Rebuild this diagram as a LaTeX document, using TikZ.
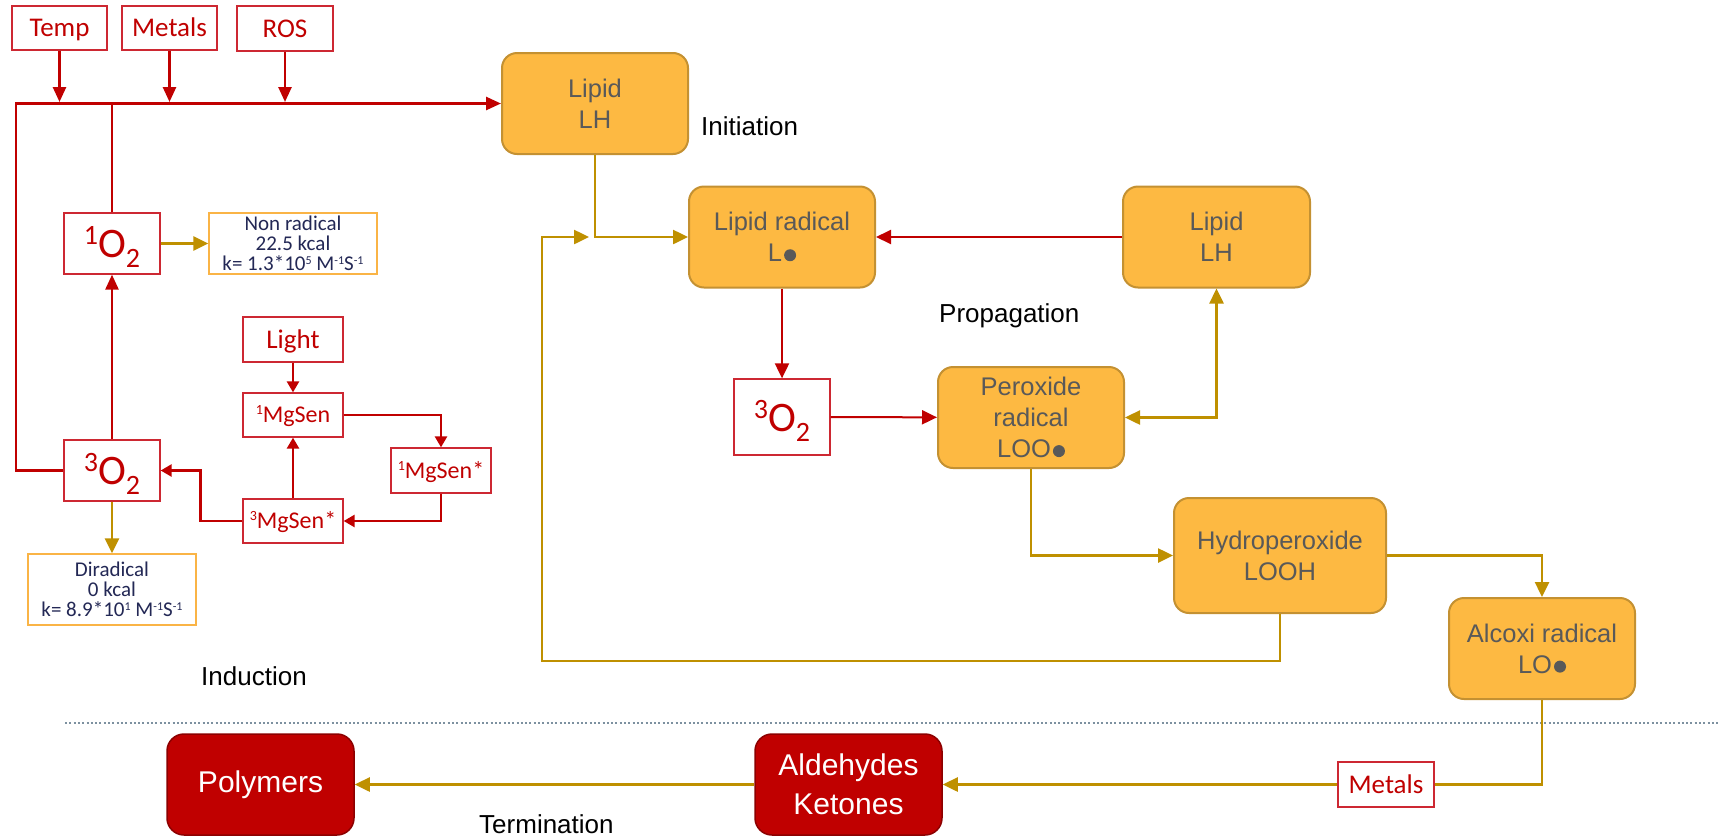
\documentclass[tikz,border=0pt]{standalone}
\usepackage{fontspec}
\setmainfont{Liberation Sans}
\newfontfamily\calib{Carlito}
\usetikzlibrary{arrows.meta}
\definecolor{redc}{RGB}{192,0,0}
\definecolor{redbd}{RGB}{205,40,50}
\definecolor{goldf}{RGB}{253,185,66}
\definecolor{goldb}{RGB}{196,145,50}
\definecolor{goldl}{RGB}{191,144,0}
\definecolor{infob}{RGB}{250,180,70}
\definecolor{navy}{RGB}{35,40,85}
\definecolor{txtgray}{RGB}{89,89,89}
\definecolor{darkb}{RGB}{140,0,0}
\definecolor{dotc}{RGB}{125,145,160}
\newcommand{\supinfo}[1]{\raisebox{6.5pt}{\fontsize{12}{12}\selectfont #1}}
\newcommand{\supmg}[1]{\raisebox{8pt}{\fontsize{14}{14}\selectfont #1}}
\newcommand{\otwo}[1]{\raisebox{13pt}{\fontsize{28}{28}\selectfont #1}O\raisebox{-10pt}{\fontsize{28}{28}\selectfont 2}}
\newcommand{\rdot}{\hspace{2pt}\tikz[baseline=0pt]\fill[txtgray] (0pt,6.5pt) circle[radius=6pt];}
\begin{document}
\begin{tikzpicture}[x=1pt,y=-1pt,
  redbox/.style={draw=redbd, line width=1.3pt, fill=white, text=redc, inner sep=0pt, text height=17pt, text depth=0pt, font=\calib\fontsize{27}{27}\selectfont},
  mgbox/.style={redbox, minimum width=100pt, minimum height=44pt, text height=15pt, font=\calib\fontsize{24}{24}\selectfont},
  obox/.style={redbox, minimum width=96pt, text height=28pt, font=\calib\fontsize{42}{42}\selectfont},
  infobox/.style={draw=infob, line width=1.3pt, fill=white, text=navy, inner sep=0pt, align=center, minimum width=168pt, font=\calib\fontsize{21}{20}\selectfont},
  goldbox/.style={draw=goldb, line width=2pt, fill=goldf, rounded corners=15pt, text=txtgray, inner sep=0pt, align=center, minimum width=186pt, minimum height=101pt, font=\fontsize{25.5}{31}\selectfont},
  darkbox/.style={draw=darkb, line width=1.5pt, fill=redc, rounded corners=17pt, text=white, inner sep=0pt, align=center, minimum width=187pt, minimum height=101pt, font=\fontsize{30}{39}\selectfont},
  lbl/.style={font=\fontsize{26}{26}\selectfont, text=black, inner sep=0pt, anchor=base west},
  rline/.style={draw=redc, line width=2.6pt},
  rarr/.style={rline, -{Triangle[length=15pt,width=13pt]}},
  rarrs/.style={rline, -{Triangle[length=11pt,width=12pt]}},
  rarr2/.style={draw=redc, line width=2pt, -{Triangle[length=15pt,width=14pt]}},
  gline/.style={draw=goldl, line width=2.5pt},
  garr/.style={gline, -{Triangle[length=15pt,width=14pt]}},
  gboth/.style={gline, {Triangle[length=15pt,width=14pt]}-{Triangle[length=15pt,width=14pt]}},
  dotline/.style={draw=dotc, line width=2.2pt, dash pattern=on 2pt off 2.3pt}
]
\useasboundingbox (0,0) rectangle (1719,836);

% ---------- Induction ----------
\node[redbox, minimum width=95pt, minimum height=44pt] (temp) at (59.5,28) {Temp};
\node[redbox, minimum width=95pt, minimum height=44pt] (metals) at (169.5,28) {Metals};
\node[redbox, minimum width=96pt, minimum height=45pt] (ros) at (285,28.5) {ROS};

\node[goldbox] (lipid) at (595,103.5) {Lipid\\LH};

\node[obox, minimum height=61pt] (o1) at (112,243.5) {\otwo{1}};
\node[obox, minimum height=61pt] (o3) at (112,470.5) {\otwo{3}};
\node[infobox, minimum height=61pt] (nonrad) at (293,243.5) {Non radical\\22.5 kcal\\k= 1.3*10\supinfo{5} M\supinfo{-1}S\supinfo{-1}};
\node[infobox, minimum height=71pt] (dirad) at (112,589.5) {Diradical\\0 kcal\\k= 8.9*10\supinfo{1} M\supinfo{-1}S\supinfo{-1}};

\node[redbox, minimum width=100pt, minimum height=45pt, text height=18pt] (light) at (293,339.5) {Light};
\node[mgbox] (mg1) at (293,415) {\supmg{1}MgSen};
\node[mgbox, minimum height=45pt] (mg1s) at (441,470.5) {\supmg{1}MgSen*};
\node[mgbox] (mg3) at (293,521) {\supmg{3}MgSen*};

\coordinate (jline) at (0,102);
\coordinate (ctl) at (16,103.5);

\draw[rarr] (temp) -- (temp |- jline);
\draw[rarr] (metals) -- (metals |- jline);
\draw[rarr] (ros) -- (ros |- jline);
\draw[rarr] (o3.west) -| (ctl) -- (lipid.west);
\draw[rline] (o1.north) -- (o1.north |- lipid.west);
\draw[rarr] (o3) -- (o1);
\draw[garr] (o1) -- (nonrad);
\draw[garr] (o3) -- (dirad);

\draw[rarrs] (light) -- (mg1);
\draw[rarrs] (mg1.east) -| (mg1s.north);
\draw[rarrs] (mg1s.south) |- (mg3.east);
\draw[rarrs] (mg3) -- (mg1);
\draw[rarrs] (mg3.west) -- ++(-42,0) |- (o3.east);

\node[lbl] (induction) at (201,685) {Induction};

% ---------- Propagation ----------
\node[lbl] (initiation) at (701,135) {Initiation};
\node[lbl] (propagation) at (939,322) {Propagation};

\node[goldbox] (lrad) at (782,237) {Lipid radical\\L\rdot};
\node[goldbox, minimum width=187pt] (lh2) at (1216.5,237) {Lipid\\LH};
\node[obox, minimum height=76pt] (o3b) at (782,417) {\otwo{3}};
\node[goldbox] (perox) at (1031,417.5) {Peroxide\\radical\\LOO\rdot};
\node[goldbox, minimum width=212pt, minimum height=115pt] (hydro) at (1280,555.5) {Hydroperoxide\\LOOH};
\node[goldbox] (alcoxi) at (1542,648.5) {Alcoxi radical\\LO\rdot};

\coordinate (fb) at (542,237);
\coordinate (fbend) at (589,237);

\draw[garr] (lipid.south) |- (lrad.west);
\draw[garr] (hydro.south) -- ++(0,47) -| (fb) -- (fbend);
\draw[rarr2] (lh2.west) -- (lrad.east);
\draw[rarr2] (lrad) -- (o3b);
\draw[rarr2] (o3b) -- (perox);
\draw[gboth] (lh2.south) |- (perox.east);
\draw[garr] (perox.south) |- (hydro.west);
\draw[garr] (hydro.east) -| (alcoxi.north);

% ---------- Termination ----------
\draw[dotline] (65,723) -- (1719,723);

\node[redbox, minimum width=96pt, minimum height=45pt] (metals2) at (1386,784.5) {Metals};
\node[darkbox] (ald) at (848.5,784.5) {Aldehydes\\Ketones};
\node[darkbox] (poly) at (260.5,784.5) {Polymers};
\node[lbl] (termination) at (479,833) {Termination};

\draw[gline] (alcoxi.south) |- (metals2.east);
\draw[garr] (metals2.west) -- (ald.east);
\draw[garr] (ald) -- (poly);
\end{tikzpicture}
\end{document}
